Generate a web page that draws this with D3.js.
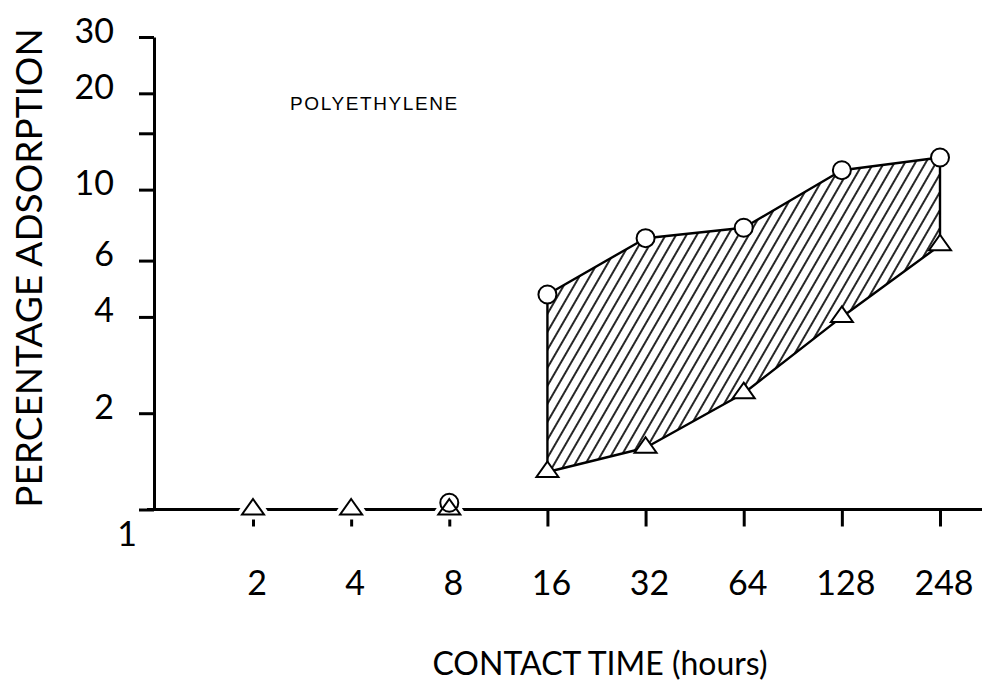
<!DOCTYPE html>
<html>
<head>
<meta charset="utf-8">
<script src="https://cdn.jsdelivr.net/npm/d3@7"></script>
<style>
  body { margin: 0; background: #fff; }
  svg { display: block; }
</style>
</head>
<body>
<svg id="chart" width="989" height="687"></svg>
<script>
// Contact times (hours), equally spaced on the time axis
const contactHours = ["2", "4", "8", "16", "32", "64", "128", "248"];

// Log-scale percentage axis
const yTicks = [1, 2, 4, 6, 10, 15, 20, 30];
const yTickLabels = ["1", "2", "4", "6", "10", "", "20", "30"];

// Upper bound of adsorption (open circles)
const upperHours = ["8", "16", "32", "64", "128", "248"];
const upperValues = [1.05, 4.7, 7.05, 7.6, 11.5, 12.6];

// Lower bound of adsorption (open triangles)
const lowerHours = ["2", "4", "8", "16", "32", "64", "128", "248"];
const lowerValues = [1, 1, 1, 1.31, 1.56, 2.31, 4.0, 6.7];

// The hatched range runs between the two bounds from this time onward
const bandStart = "16";

const svg = d3.select("#chart");
const font = "Lato, 'DejaVu Sans', sans-serif";

const x = d3.scalePoint().domain(contactHours).range([253, 940]).padding(0);
const y = d3.scaleLog().domain([1, 30]).range([509.5, 37]);

const upper = upperHours.map((h, i) => ({ h, v: upperValues[i] }));
const lower = lowerHours.map((h, i) => ({ h, v: lowerValues[i] }));

// Diagonal hatch pattern
const defs = svg.append("defs");
const pat = defs.append("pattern")
  .attr("id", "hatch")
  .attr("patternUnits", "userSpaceOnUse")
  .attr("width", 9)
  .attr("height", 20)
  .attr("patternTransform", "rotate(30)");
pat.append("line")
  .attr("x1", 1).attr("y1", -2).attr("x2", 1).attr("y2", 22)
  .attr("stroke", "#000").attr("stroke-width", 1.7);

// Shaded band polygon
const startIdx = contactHours.indexOf(bandStart);
const inBand = d => contactHours.indexOf(d.h) >= startIdx;
const bandPts = upper.filter(inBand).map(d => [x(d.h), y(d.v)])
  .concat(lower.filter(inBand).reverse().map(d => [x(d.h), y(d.v)]));
svg.append("path")
  .attr("d", "M" + bandPts.map(p => p.join(",")).join("L") + "Z")
  .attr("fill", "url(#hatch)")
  .attr("stroke", "#000")
  .attr("stroke-width", 2.4)
  .attr("stroke-linejoin", "round");

// Y axis
const yAxis = svg.append("g")
  .attr("transform", "translate(154,0)")
  .call(d3.axisLeft(y).tickValues(yTicks).tickSize(15).tickSizeOuter(0).tickFormat(""));
yAxis.select(".domain").attr("stroke-width", 3);
yAxis.selectAll(".tick line").attr("stroke-width", 3);

yTicks.forEach((v, i) => {
  if (!yTickLabels[i]) return;
  const bottom = i === 0;
  svg.append("text")
    .attr("x", bottom ? 137 : 114)
    .attr("y", bottom ? y(v) + 23 : y(v) - 8)
    .attr("text-anchor", "end")
    .attr("dominant-baseline", "central")
    .attr("font-family", font)
    .attr("font-size", 34)
    .text(yTickLabels[i]);
});

// X axis
svg.append("line")
  .attr("x1", 147).attr("x2", 982)
  .attr("y1", y(1)).attr("y2", y(1))
  .attr("stroke", "#000").attr("stroke-width", 3);
const xAxis = svg.append("g")
  .attr("transform", `translate(0,${y(1)})`)
  .call(d3.axisBottom(x).tickSize(17).tickSizeOuter(0).tickFormat(""));
xAxis.select(".domain").remove();
xAxis.selectAll(".tick line").attr("stroke-width", 3);

svg.selectAll("text.xlab")
  .data(contactHours)
  .join("text")
  .attr("class", "xlab")
  .attr("x", d => x(d) + 4)
  .attr("y", 595)
  .attr("text-anchor", "middle")
  .attr("font-family", font)
  .attr("font-size", 34)
  .text(d => d);

// Markers: white halo only where they sit on the time axis
const onAxis = d => d.v <= 1.05 && contactHours.indexOf(d.h) < startIdx;
const triPath = "M0,-10.5L11,5L-11,5Z";

const tri = svg.append("g").selectAll("g").data(lower).join("g")
  .attr("transform", d => `translate(${x(d.h)},${y(d.v)})`);
tri.filter(onAxis).append("path").attr("d", triPath)
  .attr("fill", "#fff").attr("stroke", "#fff").attr("stroke-width", 10);
tri.append("path").attr("d", triPath)
  .attr("fill", "#fff").attr("stroke", "#000").attr("stroke-width", 2)
  .attr("stroke-linejoin", "miter");

const circ = svg.append("g").selectAll("g").data(upper).join("g")
  .attr("transform", d => `translate(${x(d.h)},${y(d.v)})`);
circ.append("circle").attr("r", 9)
  .attr("fill", d => onAxis(d) ? "none" : "#fff")
  .attr("stroke", "#000").attr("stroke-width", 2);

// Titles
svg.append("text")
  .attr("x", 290).attr("y", 110)
  .attr("font-family", "'Liberation Sans', Arial, sans-serif")
  .attr("font-size", 19)
  .attr("letter-spacing", 1.6)
  .text("POLYETHYLENE");

svg.append("text")
  .attr("x", 600).attr("y", 675)
  .attr("text-anchor", "middle")
  .attr("font-family", font)
  .attr("font-size", 32)
  .text("CONTACT TIME (hours)");

svg.append("text")
  .attr("transform", "translate(42,268) rotate(-90)")
  .attr("text-anchor", "middle")
  .attr("font-family", font)
  .attr("font-size", 37)
  .text("PERCENTAGE ADSORPTION");
</script>
</body>
</html>
